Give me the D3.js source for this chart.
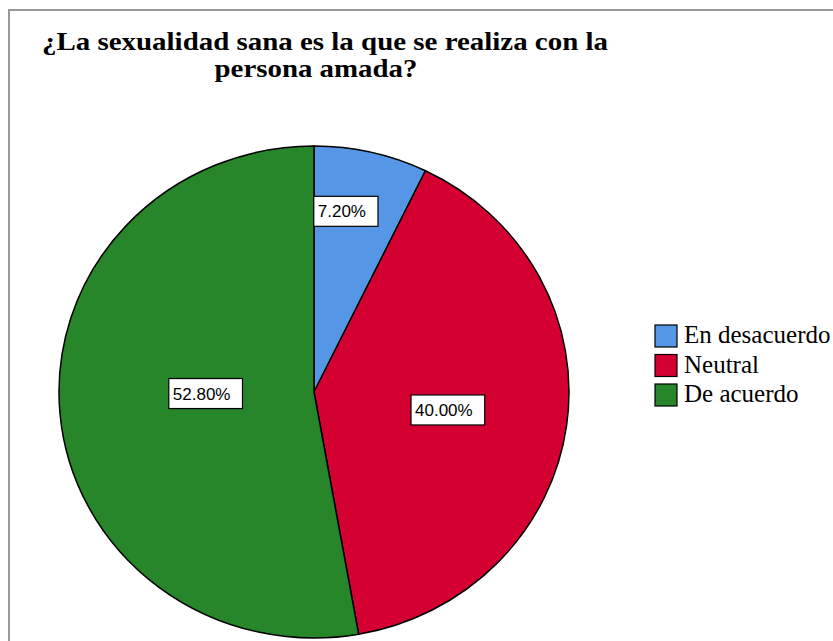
<html>
<head>
	<meta charset="utf-8">
	<title>Pie - sexualidad sana</title>
	<script src="https://d3js.org/d3.v7.min.js"></script>
</head>
<body>
	<style> *{
		margin: 0px;
		padding: 0px;
	}
	body { background: #fff; }
	.serif { font-family: "Liberation Serif", "Times New Roman", Times, serif; }
	.sans { font-family: "Liberation Sans", Arial, Helvetica, sans-serif; }
	</style>

	<svg id="SVGcanvas" width="833" height="641" xmlns="http://www.w3.org/2000/svg"></svg>

	<script>
	// chart data
	var categories = ["En desacuerdo", "Neutral", "De acuerdo"];
	var percents = [7.2, 40.0, 52.8];
	var sliceColors = ["#5596e6", "#d50032", "#27852a"];
	var titleLines = ["¿La sexualidad sana es la que se realiza con la", "persona amada?"];

	var svg = d3.select("#SVGcanvas");

	// grey frame (only top and left edges are visible)
	svg.append("path")
		.attr("d", "M9,641 L9,10 L833,10")
		.attr("fill", "none")
		.attr("stroke", "#9a9a9a")
		.attr("stroke-width", 2);

	// title
	var titleX = [325, 316], titleY = [50, 77], titleW = [566, 203];
	svg.selectAll("text.title")
		.data(titleLines)
		.enter().append("text")
		.attr("class", "title serif")
		.attr("x", function(d, i) { return titleX[i]; })
		.attr("y", function(d, i) { return titleY[i]; })
		.attr("text-anchor", "middle")
		.attr("textLength", function(d, i) { return titleW[i]; })
		.attr("lengthAdjust", "spacingAndGlyphs")
		.attr("font-weight", "bold")
		.attr("font-size", 25)
		.text(function(d) { return d; });

	// pie (slightly elliptical, like the original)
	var cx = 314, cy = 392, rx = 255, ry = 246;
	var sx = rx / ry;

	var pie = d3.pie().sort(null).value(function(d) { return d; });
	var arcs = pie(percents);
	var arc = d3.arc().innerRadius(0).outerRadius(ry);

	var pieG = svg.append("g")
		.attr("transform", "translate(" + cx + "," + cy + ") scale(" + sx + ",1)");

	pieG.selectAll("path")
		.data(arcs)
		.enter().append("path")
		.attr("d", arc)
		.attr("fill", function(d, i) { return sliceColors[i]; })
		.attr("stroke", "#000")
		.attr("stroke-width", 1.5)
		.attr("vector-effect", "non-scaling-stroke");

	// labels in white boxes, placed around each slice's mid angle
	var labelShift = [-3.3, 0, 4.2];      // degrees
	var labelFrac = [0.745, 0.53, 0.425];
	var labelG = svg.append("g");
	arcs.forEach(function(a, i) {
		var mid = (a.startAngle + a.endAngle) / 2 + labelShift[i] * Math.PI / 180;
		var px = cx + Math.sin(mid) * rx * labelFrac[i];
		var py = cy - Math.cos(mid) * ry * labelFrac[i];
		var txt = d3.format(".2f")(percents[i]) + "%";
		var g = labelG.append("g");
		var t = g.append("text")
			.attr("class", "sans")
			.attr("x", 0).attr("y", 0)
			.attr("font-size", 17)
			.text(txt);
		var bb = t.node().getBBox();
		var w = bb.width + 16, h = 30;
		var left = px - w / 2;
		var top = py - h / 2;
		g.insert("rect", "text")
			.attr("x", left).attr("y", top)
			.attr("width", w).attr("height", h)
			.attr("fill", "#fff")
			.attr("stroke", "#000")
			.attr("stroke-width", 1.2);
		t.attr("x", left + 4).attr("y", top + h / 2 + 6);
	});

	// legend
	var legX = 655, legY = 325, legStep = 29.5, sw = 22;
	var leg = svg.selectAll("g.leg")
		.data(categories)
		.enter().append("g")
		.attr("class", "leg")
		.attr("transform", function(d, i) { return "translate(" + legX + "," + (legY + i * legStep) + ")"; });
	leg.append("rect")
		.attr("width", sw).attr("height", sw)
		.attr("fill", function(d, i) { return sliceColors[i]; })
		.attr("stroke", "#000")
		.attr("stroke-width", 1.2);
	leg.append("text")
		.attr("class", "serif")
		.attr("x", 29).attr("y", 18)
		.attr("font-size", 25)
		.text(function(d) { return d; });
	</script>
</body>
</html>
